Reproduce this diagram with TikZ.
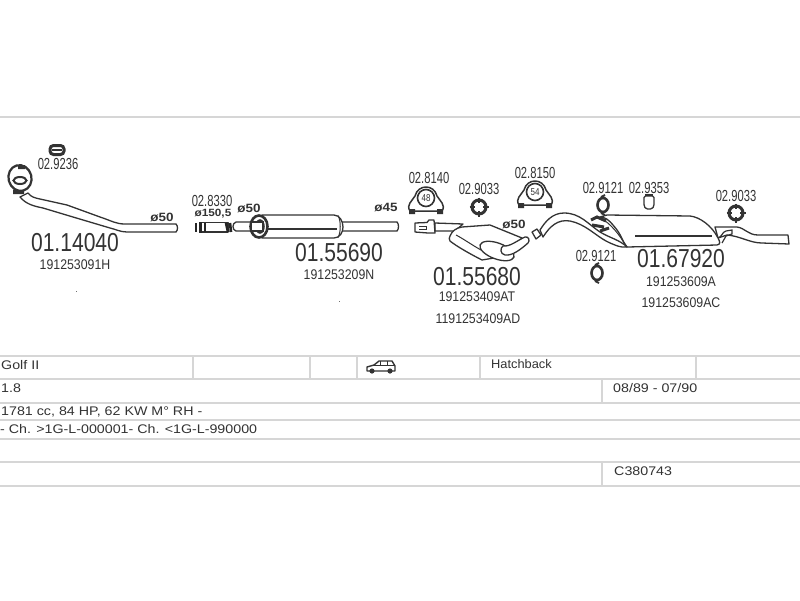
\documentclass[tikz,border=0pt]{standalone}
\usepackage{fontspec}
\setmainfont{Liberation Sans}
\usetikzlibrary{shapes.geometric}
\definecolor{ink}{gray}{0.2}
\definecolor{rule}{gray}{0.84}
\tikzset{
  bignum/.style={text=ink,font=\fontsize{26}{26}\selectfont,xscale=.81,transform shape,inner sep=0pt},
  partno/.style={text=ink,font=\fontsize{14}{14}\selectfont,xscale=.88,transform shape,inner sep=0pt},
  fitno/.style={text=ink,font=\fontsize{16}{16}\selectfont,xscale=.7,transform shape,inner sep=0pt},
  dia/.style={text=ink,font=\fontsize{12}{12}\bfseries\selectfont,xscale=1.12,transform shape,inner sep=0pt},
  cell/.style={text=ink,font=\fontsize{12.5}{13}\selectfont,anchor=west,inner sep=0pt,xscale=1.14,transform shape},
  tab/.style={rule,line width=1.6pt},
  pipe/.style={ink,line width=1.3pt,line join=round,fill=white},
  blk/.style={black!85,line width=2.6pt},
}
\newcommand{\starclamp}[2]{%
  \draw[ink,line width=3pt] (#1,#2) circle[radius=7pt];
  \draw[ink,line width=2.6pt] (#1-9.5,#2) -- (#1-4,#2) (#1+4,#2) -- (#1+9.5,#2) (#1,#2-9.5) -- (#1,#2-4) (#1,#2+4) -- (#1,#2+9.5);
}
\newcommand{\ringclamp}[2]{%
  \draw[ink,line width=2.6pt] (#1,#2) ellipse[x radius=5.5pt,y radius=7pt];
  \draw[ink,line width=2pt] (#1-2,#2-8) -- (#1+2,#2-10) (#1-2,#2+8) -- (#1+2,#2+10);
}
\newcommand{\hanger}[4]{% x y name number
  \draw[pipe,line width=1.5pt] (#1-16,#2+13) .. controls (#1-20,#2+7) and (#1-14,#2+3) .. (#1-11,#2-2)
     .. controls (#1-8,#2-14) and (#1+8,#2-14) .. (#1+11,#2-2)
     .. controls (#1+14,#2+3) and (#1+20,#2+7) .. (#1+16,#2+13) -- cycle;
  \draw[ink,line width=1.6pt] (#1,#2) circle[radius=8.5pt];
  \fill[ink] (#1-17,#2+11) rectangle (#1-11,#2+16) (#1+11,#2+11) rectangle (#1+17,#2+16);
  \node[text=ink,font=\fontsize{10}{10}\selectfont,xscale=.8,transform shape,inner sep=0pt] (#3) at (#1,#2) {#4};
}
\begin{document}
\begin{tikzpicture}[x=1pt,y=-1pt]
\fill[white] (0,0) rectangle (800,600);
\useasboundingbox (0,0) rectangle (800,600);
% table rules
\draw[tab] (0,117) -- (800,117);
\foreach \yy in {356,379,403,420,439,462,486} \draw[tab] (0,\yy) -- (800,\yy);
\foreach \xx in {193,310,357,480,696} \draw[rule,line width=1.3pt] (\xx,356) -- (\xx,379);
\draw[rule,line width=1.3pt] (602,379) -- (602,403) (602,462) -- (602,486);
% table texts
\node[cell] (tGolf) at (1,365) {Golf II};
\node[cell,xscale=.9] (tHatch) at (491,364) {Hatchback};
\node[cell] (tLitre) at (1,388) {1.8};
\node[cell] (tYears) at (613,388) {08/89 - 07/90};
\node[cell] (tPower) at (1,412) {1781 cc, 84 HP, 62 KW  M° RH -};
\node[cell] (tChassis) at (0,429) {- Ch. >1G-L-000001- Ch. <1G-L-990000};
\node[cell] (tCode) at (614,471) {C380743};
% car icon
\draw[ink,line width=1.4pt,line join=round,fill=white] (367,371) -- (367,367) -- (374,365) -- (379,361) -- (392,361) -- (395,366) -- (395,371) -- cycle;
\draw[ink,line width=.8pt] (380,361) -- (380,365) -- (374,365) (387,361) -- (387,365) -- (380,365) (387,365) -- (394,365);
\fill[ink] (372,371) circle[radius=2.6pt] (390,371) circle[radius=2.6pt];

% --- part 01.14040 ---
\draw[pipe] (28,193) .. controls (31,197) and (35,198) .. (40,199) -- (67,205) -- (100,217) .. controls (112,221) and (116,224) .. (125,224) -- (176,224) .. controls (178,226) and (178,230) .. (176,232) -- (127,232) .. controls (120,232) and (115,229) .. (110,228) -- (73,217) -- (43,208) .. controls (33,206) and (26,204) .. (20,197) -- cycle;
\draw[ink,line width=2.2pt,fill=white,rotate around={15:(20,178)}] (20,178) ellipse[x radius=11.5pt,y radius=13pt];
\draw[ink,line width=2pt,fill=white] (20,180.5) ellipse[x radius=6.5pt,y radius=3.5pt];
\fill[ink] (18,165) rectangle (25,169) (13,190) rectangle (24,194);
\draw[ink,line width=3pt,rounded corners=3.5pt] (50,145.5) rectangle (64,154.5);
\draw[ink,line width=1.2pt] (52,150) -- (62,150);
\node[fitno] (f9236) at (58,164) {02.9236};
\node[bignum] (p1) at (75,243) {01.14040};
\node[partno] (o1) at (75,265) {191253091H};
\node[dia] (d1) at (162,217) {ø50};
\fill[ink!70] (75.5,290.5) rectangle (76.5,292);

% --- clamp 02.8330 ---
\draw[pipe] (200,222.5) rectangle (228,232);
\draw[blk] (196,223) -- (196,232) (200.5,222) -- (200.5,233) (205,223) -- (205,232);
\draw[blk] (226,223) -- (228,232) (230,223) -- (231,232);
\node[fitno] (f8330) at (212,201) {02.8330};
\node[dia,font=\fontsize{10.5}{11}\bfseries\selectfont,xscale=1] (d2) at (213,214) {ø150,5};

% --- part 01.55690 ---
\draw[pipe] (342,222) -- (397,222) .. controls (399,224) and (399,229) .. (397,231) -- (342,231) -- cycle;
\draw[pipe] (262,215) -- (334,215) .. controls (340,215) and (343,222) .. (343,227) .. controls (343,232) and (340,238) .. (334,238) -- (262,238) -- cycle;
\draw[ink,line width=1pt] (338,215.5) .. controls (341,220) and (341,233) .. (338,237.5);
\draw[ink,line width=1.2pt] (268,229) -- (337,229);
\draw[pipe] (254,222) -- (236,222) .. controls (232,223) and (232,230) .. (236,231) -- (254,231);
\draw[ink,line width=2.6pt,fill=white] (259,226.5) ellipse[x radius=8.5pt,y radius=11pt];
\draw[ink,line width=1.5pt,fill=white] (260,226.5) ellipse[x radius=4pt,y radius=6.5pt];
\draw[ink,line width=1.2pt,fill=white] (252,222) -- (263,222) -- (263,231) -- (252,231);
\node[dia] (d3) at (249,208) {ø50};
\node[dia] (d4) at (386,208) {ø45};
\node[bignum] (p2) at (339,253) {01.55690};
\node[partno] (o2) at (339,275) {191253209N};
\fill[ink!70] (339,300.5) rectangle (340,302);

% --- part 01.55680 ---
\draw[pipe] (435,223) -- (463,224) -- (455,231) -- (435,231) -- cycle;
\draw[pipe] (415,223) -- (427,222.5) -- (429,220) -- (434,220) -- (435,233) -- (428,233) -- (415,232) -- cycle;
\draw[ink,line width=1pt] (419,226) -- (426,226) -- (426,229) -- (419,229);
\draw[pipe] (450,236) .. controls (452,231) and (456,228) .. (462,227) -- (490,225) -- (522,238) -- (506,256) -- (482,260) .. controls (472,255) and (456,246) .. (450,241) .. controls (449,239) and (449,238) .. (450,236) -- cycle;
\draw[ink,line width=1pt] (456,235) .. controls (462,238) and (472,245) .. (481,250);
\draw[pipe,rotate around={-20:(497,251)}] (497,251) ellipse[x radius=18pt,y radius=8pt];
\draw[pipe] (503,246) .. controls (510,247) and (518,240) .. (525,237) .. controls (529,236) and (530,241) .. (528,243) .. controls (520,250) and (512,256) .. (505,255) .. controls (500,254) and (500,248) .. (503,246) -- cycle;
\hanger{426}{198}{h48}{48}
\hanger{535}{192}{h54}{54}
\starclamp{479}{207}
\node[fitno] (f8140) at (429,178) {02.8140};
\node[fitno] (f9033a) at (479,189) {02.9033};
\node[fitno] (f8150) at (535,173) {02.8150};
\node[dia] (d5) at (514,224) {ø50};
\node[bignum] (p3) at (477,277) {01.55680};
\node[partno] (o3a) at (477,297) {191253409AT};
\node[partno] (o3b) at (478,319) {1191253409AD};

% --- part 01.67920 ---
\draw[pipe] (715,227) -- (737,227) .. controls (745,228) and (748,235) .. (758,235) -- (788,235) -- (789,244) -- (762,243) .. controls (750,243) and (740,236) .. (727,235) -- (718,238) -- cycle;
\draw[pipe] (607,215) -- (690,216) .. controls (700,217) and (712,226) .. (718,238) .. controls (720,242) and (721,244) .. (717,245) -- (627,247) .. controls (622,241) and (622,235) .. (613,225) .. controls (609,220) and (605,217) .. (600,217) -- cycle;
\draw[ink,line width=1.2pt] (635,236) -- (712,236);
\draw[pipe] (532,232) -- (537,229) -- (541,235) -- (536,239) -- cycle;
\draw[pipe] (540,230) .. controls (545,222) and (552,213) .. (564,213) .. controls (580,213) and (588,224) .. (600,232) .. controls (610,238) and (620,240) .. (627,247)
  .. controls (620,248) and (612,244) .. (606,241) .. controls (595,235) and (585,224) .. (570,221) .. controls (558,219) and (550,226) .. (543,237) -- cycle;
\draw[ink,line width=1pt] (600,218) .. controls (610,222) and (622,238) .. (625,245);
\draw[ink,line width=3pt] (591,220) -- (597,217) -- (606,221) (592,225) -- (604,227) (600,231) -- (609,228);
\draw[ink,line width=1.2pt] (718,238) .. controls (722,237) and (722,232) .. (726,231) -- (732,230) -- (732,234) -- (726,236) -- (722,243);
\ringclamp{603}{205}
\ringclamp{597}{273}
\starclamp{736}{213}
\draw[pipe,rounded corners=1.5pt] (644,196) -- (654,196) -- (654,206) -- (652,209) -- (646,209) -- (644,206) -- cycle;
\draw[ink,line width=2.4pt] (645,195) -- (653,195);
\node[fitno] (f9121a) at (603,188) {02.9121};
\node[fitno] (f9353) at (649,188) {02.9353};
\node[fitno] (f9033b) at (736,196) {02.9033};
\node[fitno] (f9121b) at (596,256) {02.9121};
\node[bignum] (p4) at (681,259) {01.67920};
\node[partno] (o4a) at (681,282) {191253609A};
\node[partno] (o4b) at (681,303) {191253609AC};
\end{tikzpicture}
\end{document}
